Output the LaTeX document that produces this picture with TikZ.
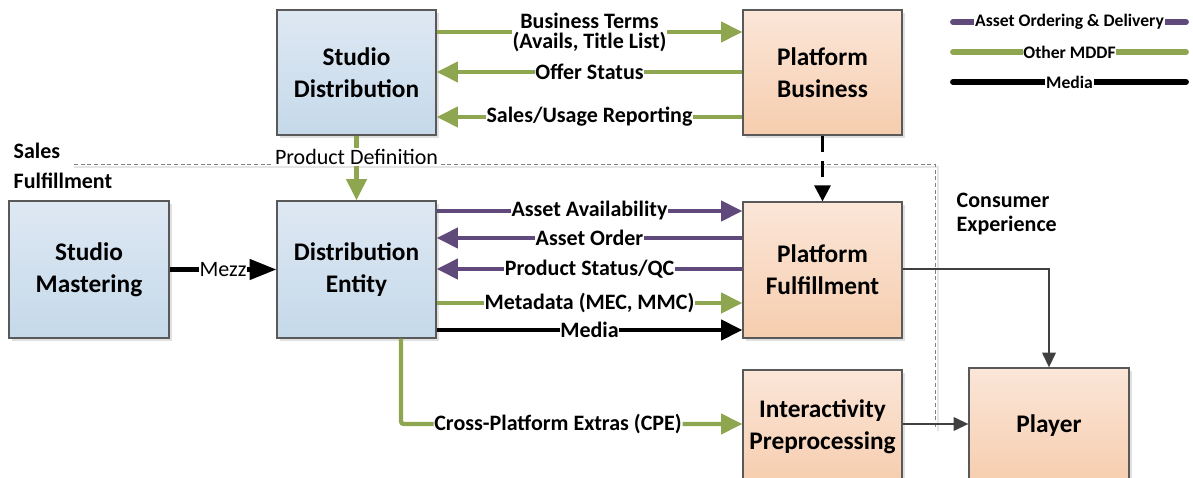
\documentclass[tikz,border=0pt]{standalone}
\usepackage{fontspec}
\setmainfont{Carlito}
\usetikzlibrary{arrows.meta,shadows}
\definecolor{mgreen}{RGB}{143,166,80}
\definecolor{mpurple}{RGB}{96,74,123}
\definecolor{boxline}{RGB}{89,89,89}
\definecolor{bluetop}{RGB}{222,232,243}
\definecolor{bluebot}{RGB}{197,217,234}
\definecolor{orgtop}{RGB}{251,230,216}
\definecolor{orgbot}{RGB}{246,205,174}
\definecolor{conn}{RGB}{64,64,64}
\tikzset{
  box/.style={draw=boxline, line width=0.9pt, align=center, text=black,
    font=\fontsize{19}{24}\selectfont\bfseries,
    minimum width={159*0.75pt}, inner sep=0pt,
    general shadow={fill=black!12, shadow xshift=2pt, shadow yshift=-2pt}},
  bluebox/.style={box, top color=bluetop, bottom color=bluebot},
  orgbox/.style={box, top color=orgtop, bottom color=orgbot},
  lab/.style={fill=white, text=black, inner sep=0.6pt, align=center,
    font=\fontsize{16.5}{15}\selectfont\bfseries},
  plainlab/.style={fill=white, text=black, inner sep=0.6pt,
    font=\fontsize{16.5}{18}\selectfont},
  side/.style={anchor=west, text=black, font=\fontsize{16.5}{18}\selectfont\bfseries},
  legtext/.style={fill=white, text=black, inner sep=0.5pt,
    font=\fontsize{13.2}{15}\selectfont\bfseries},
  bigtip/.style={-{Triangle[length=16pt,width=15pt]}},
  garrow/.style={mgreen, line width=3.2pt, bigtip},
  parrow/.style={mpurple, line width=3.2pt, bigtip},
  karrow/.style={black, line width=3.2pt, bigtip},
  carrow/.style={conn, line width=1.6pt, -{Triangle[length=11pt,width=10pt]}},
  legline/.style={line width=4.4pt, line cap=round},
  divider/.style={gray, line width=0.6pt, dash pattern=on 3pt off 2pt},
}
\begin{document}
\begin{tikzpicture}[x=0.75pt,y=-0.75pt]
\useasboundingbox (0,0) rectangle (1193,478);
% divider
\coordinate (dvA) at (74,164);
\coordinate (dvB) at (935,164);
\coordinate (dvC) at (935,428);
\draw[black!10, line width=0.8pt] (74,167) -- (938,167) -- (938,431);
\draw[divider] (dvA) -- (dvB) -- (dvC);
% boxes
\node[bluebox, minimum height={125*0.75pt}] (SD) at (356.5,72.5) {Studio\\Distribution};
\node[orgbox, minimum height={125*0.75pt}] (PB) at (822.5,72.5) {Platform\\Business};
\node[bluebox, minimum height={137*0.75pt}, minimum width={160*0.75pt}] (SM) at (89,269.5) {Studio\\Mastering};
\node[bluebox, minimum height={137*0.75pt}] (DE) at (356.5,269.5) {Distribution\\Entity};
\node[orgbox, minimum height={136*0.75pt}] (PF) at (822.5,270) {Platform\\Fulfillment};
\node[orgbox, minimum height={114*0.75pt}] (IP) at (822.5,427) {Interactivity\\Preprocessing};
\node[orgbox, minimum height={116*0.75pt}, minimum width={160*0.75pt}] (PL) at (1049,426) {Player};
% side texts
\node[side] (tSales) at (9,151) {Sales};
\node[side] (tFul) at (9,181) {Fulfillment};
\node[side] (tCon) at (952,200) {Consumer};
\node[side] (tExp) at (952,226) {Experience};
% row coordinates
\coordinate (r1) at (0,32);
\coordinate (r2) at (0,72);
\coordinate (r3) at (0,117);
\coordinate (r4) at (0,211);
\coordinate (r5) at (0,238);
\coordinate (r6) at (0,269);
\coordinate (r7) at (0,303);
\coordinate (r8) at (0,330);
\coordinate (r9) at (0,424);
\coordinate (cx) at (401,0);
% top arrows
\draw[garrow] (SD.east |- r1) -- node[lab]{Business Terms\\(Avails, Title List)} (PB.west |- r1);
\draw[garrow] (PB.west |- r2) -- node[lab]{Offer Status} (SD.east |- r2);
\draw[garrow] (PB.west |- r3) -- node[lab]{Sales/Usage Reporting} (SD.east |- r3);
% product definition
\draw[garrow] (SD.south) -- node[plainlab, pos=0.33]{Product Definition} (DE.north);
% dashed
\draw[black, line width=2.2pt, dash pattern=on 12pt off 7pt, -{Triangle[length=12pt,width=12pt]}] (PB.south) -- (PF.north);
% mezz
\draw[karrow, -{Triangle[length=20pt,width=15pt]}] (SM.east) -- node[plainlab]{Mezz} (DE.west);
% fulfillment arrows
\draw[parrow] (DE.east |- r4) -- node[lab]{Asset Availability} (PF.west |- r4);
\draw[parrow] (PF.west |- r5) -- node[lab]{Asset Order} (DE.east |- r5);
\draw[parrow] (PF.west |- r6) -- node[lab]{Product Status/QC} (DE.east |- r6);
\draw[garrow] (DE.east |- r7) -- node[lab]{Metadata (MEC, MMC)} (PF.west |- r7);
\draw[karrow] (DE.east |- r8) -- node[lab]{Media} (PF.west |- r8);
% CPE
\draw[garrow, rounded corners=2pt] (DE.south -| cx) |- node[lab, pos=0.73]{Cross-Platform Extras (CPE)} (IP.west |- r9);
% to player
\draw[carrow] (PF.east |- r6) -| (PL.north);
\draw[carrow] (IP.east |- r9) -- (PL.west |- r9);
% legend
\coordinate (lgA1) at (953,22);
\coordinate (lgA2) at (1186,22);
\coordinate (lgB1) at (953,52);
\coordinate (lgB2) at (1186,52);
\coordinate (lgC1) at (953,82);
\coordinate (lgC2) at (1186,82);
\draw[mpurple, legline] (lgA1) -- node[legtext]{Asset Ordering \& Delivery} (lgA2);
\draw[mgreen, legline] (lgB1) -- node[legtext]{Other MDDF} (lgB2);
\draw[black, legline] (lgC1) -- node[legtext]{Media} (lgC2);
\end{tikzpicture}
\end{document}
